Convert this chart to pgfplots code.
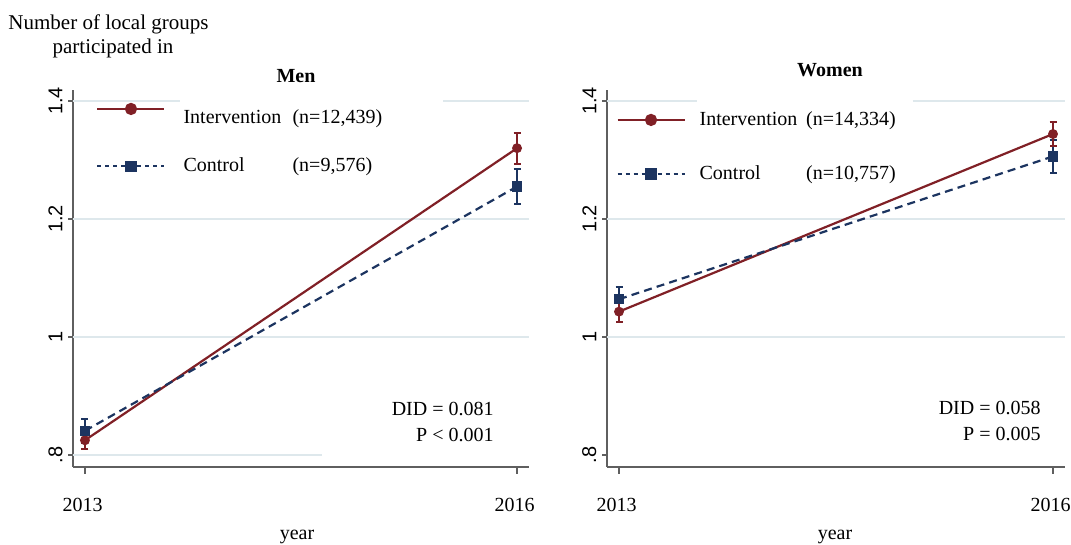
\documentclass[border=0pt]{standalone}
\usepackage{fontspec}
\setmainfont{Liberation Serif}
\setsansfont{Liberation Sans}
\usepackage{pgfplots}
\pgfplotsset{compat=1.18}
\definecolor{intc}{RGB}{128,32,38}
\definecolor{ctlc}{RGB}{28,52,96}
\definecolor{gridc}{RGB}{222,232,236}
\definecolor{axc}{RGB}{95,95,95}

\pgfplotsset{
  stbase/.style={
    scale only axis, height=188.5pt,
    xmin=2012.917, xmax=2016.083, ymin=0.7797, ymax=1.4186,
    axis x line*=bottom, axis y line*=left,
    axis line style={axc, line width=0.8pt, -},
    xtick={2013,2016}, xticklabels={2013,2016},
    ytick={0.8,1,1.2,1.4}, yticklabels={.8,1,1.2,1.4},
    tick align=outside,
    xtick style={axc, line width=0.8pt, /pgfplots/major tick length=3.5pt},
    ytick style={axc, line width=0.8pt, /pgfplots/major tick length=2.5pt},
    xticklabel style={font=\fontsize{10}{12}\selectfont, anchor=base, yshift=-18pt, xshift=-1.2pt},
    yticklabel style={font=\sffamily\fontsize{10}{12}\selectfont, rotate=90, anchor=south},
    yticklabel shift=-2.5pt,
    clip=false,
    legend cell align=left,
  },
  intline/.style={intc, line width=1.1pt, mark=*, mark size=1.9pt, mark options={solid, fill=intc}},
  ctlline/.style={ctlc, line width=1.1pt, dash pattern=on 4pt off 2.6pt, mark=square*, mark size=2pt, mark options={solid, fill=ctlc}},
  interr/.style={forget plot, draw=none, mark=none, error bars/.cd, y dir=both, y explicit,
    error bar style={draw=intc, line width=1pt, solid},
    error mark options={draw=intc, line width=1pt, mark size=1.75pt, rotate=90}},
  ctlerr/.style={forget plot, draw=none, mark=none, error bars/.cd, y dir=both, y explicit,
    error bar style={draw=ctlc, line width=1pt, solid},
    error mark options={draw=ctlc, line width=1pt, mark size=1.75pt, rotate=90}},
  intleg/.style={legend image code/.code={
    \draw[intc, line width=1.1pt] (0pt,0pt) -- (33.5pt,0pt);
    \draw[intc] plot[mark=*, mark size=2.5pt, mark options={solid, fill=intc}] coordinates {(16.75pt,0pt)};}},
  ctlleg/.style={legend image code/.code={
    \draw[ctlc, line width=1pt, dash pattern=on 2pt off 2pt] (0pt,0pt) -- (33.5pt,0pt);
    \draw[ctlc] plot[mark=square*, mark size=2.3pt, mark options={solid, fill=ctlc}] coordinates {(16.75pt,0pt)};}},
}

\begin{document}
\begin{tikzpicture}
\useasboundingbox (0,0) rectangle (535.5pt,272.5pt);

% ---------------- Men ----------------
\begin{axis}[stbase, width=228pt, at={(36.5pt,39pt)}, anchor=south west,
  legend style={at={(axis description cs:0.0504,0.964)}, anchor=north west, draw=none, fill=none,
    inner sep=0pt, row sep=22pt, column sep=9pt, font=\fontsize{10}{12}\selectfont,
    nodes={inner sep=0pt}}]
\draw[gridc, line width=0.7pt] (axis cs:2012.917,1.4) -- (axis cs:2013.66,1.4);
\draw[gridc, line width=0.7pt] (axis cs:2015.486,1.4) -- (axis cs:2016.083,1.4);
\draw[gridc, line width=0.7pt] (axis cs:2012.917,1.2) -- (axis cs:2016.083,1.2);
\draw[gridc, line width=0.7pt] (axis cs:2012.917,1.0) -- (axis cs:2016.083,1.0);
\draw[gridc, line width=0.7pt] (axis cs:2012.917,0.8) -- (axis cs:2014.646,0.8);

\addplot[ctlerr] coordinates {(2013,0.841) +- (0,0.020) (2016,1.255) +- (0,0.029)};
\addplot[interr] coordinates {(2013,0.825) +- (0,0.015) (2016,1.320) +- (0,0.026)};
\addplot[intline, intleg] coordinates {(2013,0.825) (2016,1.320)};
\addlegendentry{\raisebox{-8pt}{\makebox[54.5pt][l]{Intervention}(n=12,439)}}
\addplot[ctlline, ctlleg] coordinates {(2013,0.841) (2016,1.255)};
\addlegendentry{\makebox[54.5pt][l]{Control}(n=9,576)}
\end{axis}

% ---------------- Women ----------------
\begin{axis}[stbase, width=229pt, at={(303.5pt,39pt)}, anchor=south west,
  legend style={at={(axis description cs:0.0197,0.944)}, anchor=north west, draw=none, fill=none,
    inner sep=0pt, row sep=18.5pt, column sep=7pt, font=\fontsize{10}{12}\selectfont,
    nodes={inner sep=0pt}}]
\draw[gridc, line width=0.7pt] (axis cs:2012.917,1.4) -- (axis cs:2013.537,1.4);
\draw[gridc, line width=0.7pt] (axis cs:2015.03,1.4) -- (axis cs:2016.083,1.4);
\draw[gridc, line width=0.7pt] (axis cs:2012.917,1.2) -- (axis cs:2016.083,1.2);
\draw[gridc, line width=0.7pt] (axis cs:2012.917,1.0) -- (axis cs:2016.083,1.0);

\addplot[ctlerr] coordinates {(2013,1.064) +- (0,0.020) (2016,1.306) +- (0,0.028)};
\addplot[interr] coordinates {(2013,1.043) +- (0,0.017) (2016,1.344) +- (0,0.021)};
\addplot[intline, intleg] coordinates {(2013,1.043) (2016,1.344)};
\addlegendentry{\makebox[53.3pt][l]{Intervention}(n=14,334)}
\addplot[ctlline, ctlleg] coordinates {(2013,1.064) (2016,1.306)};
\addlegendentry{\makebox[53.3pt][l]{Control}(n=10,757)}
\end{axis}

% ---------------- Texts ----------------
\node[font=\fontsize{10.5}{12.5}\selectfont, anchor=base, inner sep=0pt] at (54.25pt,257.5pt) {Number of local groups};
\node[font=\fontsize{10.5}{12.5}\selectfont, anchor=base, inner sep=0pt] at (56.5pt,245.5pt) {participated in};
\node[font=\fontsize{10}{12}\selectfont\bfseries, anchor=base, inner sep=0pt] at (148pt,231pt) {Men};
\node[font=\fontsize{10}{12}\selectfont\bfseries, anchor=base, inner sep=0pt] at (415pt,234pt) {Women};
\node[font=\fontsize{10}{12}\selectfont, anchor=base east, inner sep=0pt] at (247pt,64.5pt) {DID = 0.081};
\node[font=\fontsize{10}{12}\selectfont, anchor=base east, inner sep=0pt] at (247pt,51.5pt) {P < 0.001};
\node[font=\fontsize{10}{12}\selectfont, anchor=base east, inner sep=0pt] at (520.5pt,65pt) {DID = 0.058};
\node[font=\fontsize{10}{12}\selectfont, anchor=base east, inner sep=0pt] at (520.5pt,52pt) {P = 0.005};
\node[font=\fontsize{10}{12}\selectfont, anchor=base, inner sep=0pt] at (148.5pt,2.5pt) {year};
\node[font=\fontsize{10}{12}\selectfont, anchor=base, inner sep=0pt] at (417.5pt,2.5pt) {year};
\end{tikzpicture}
\end{document}
